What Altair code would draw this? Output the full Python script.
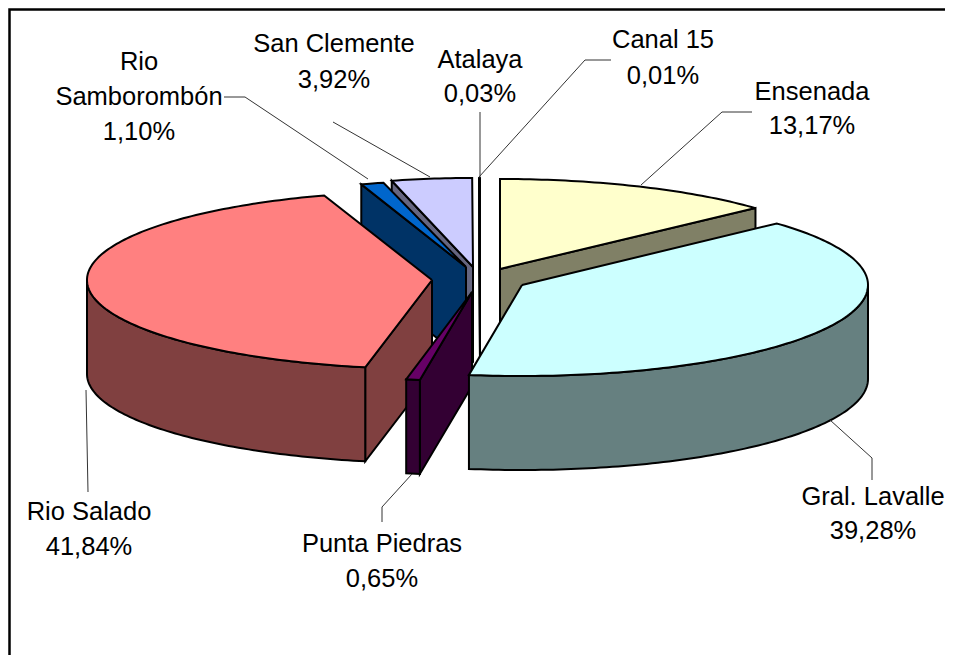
import math
import altair as alt
import pandas as pd

names = ["Ensenada", "Gral. Lavalle", "Punta Piedras", "Rio Salado",
         "Rio Samborombón", "San Clemente", "Atalaya", "Canal 15"]
values = [13.17, 39.28, 0.65, 41.84, 1.10, 3.92, 0.03, 0.01]
top_colors = ["#FFFFCC", "#CCFFFF", "#660066", "#FF8080", "#0066CC", "#CCCCFF", "#800000", "#FFFF00"]
wall_colors = ["#808066", "#668080", "#330033", "#804040", "#003366", "#666680", "#400000", "#808000"]
# exploded apex of every slice (x, y) and ellipse radii
apex = [(500, 269), (522, 285), (472, 292), (432, 280), (466, 267), (473, 267), (480, 268), (480, 268)]
radius_x = [347, 346, 340, 345, 335, 330, 346, 346]
radius_y = [90, 91, 89, 89, 87, 89, 90, 90]
depth = 94
draw_order = [5, 6, 7, 4, 0, 3, 2, 1]
# cut faces seen by the viewer: slice -> use start or end edge
visible_cut = {0: "end", 1: None, 2: "start", 3: "start", 4: "start", 5: "start", 6: "start", 7: "start"}

X0, X1, Y0, Y1 = 8, 945, 8, 655
x_scale = alt.Scale(domain=[X0, X1], nice=False, zero=False)
y_scale = alt.Scale(domain=[Y1, Y0], nice=False, zero=False)


def polygon(pts, fill):
    pts = pts + [pts[0]]
    df = pd.DataFrame({"x": [p[0] for p in pts], "y": [p[1] for p in pts], "i": range(len(pts))})
    return alt.Chart(df).mark_line(fill=fill, stroke="black", strokeWidth=2, strokeJoin="miter", interpolate="linear", clip=False).encode(
        x=alt.X("x:Q", scale=x_scale, axis=None),
        y=alt.Y("y:Q", scale=y_scale, axis=None),
        order=alt.Order("i:Q"),
    )


def rim(k, deg):
    t = math.radians(deg)
    return (apex[k][0] + radius_x[k] * math.sin(t), apex[k][1] - radius_y[k] * math.cos(t))


def down(p):
    return (p[0], p[1] + depth)


layers = []
total = sum(values)
starts = []
acc = 0.0
for v in values:
    starts.append(acc / total * 360)
    acc += v
for k in draw_order:
    a0 = starts[k]
    a1 = a0 + values[k] / total * 360
    n = max(2, int((a1 - a0)) + 2)
    angs = [a0 + (a1 - a0) * j / (n - 1) for j in range(n)]
    # cut wall
    cut = visible_cut[k]
    if cut:
        p = rim(k, a1 if cut == "end" else a0)
        layers.append(polygon([apex[k], p, down(p), down(apex[k])], wall_colors[k]))
    # outer wall: the part of the rim facing the viewer
    lo, hi = max(a0, 90), min(a1, 270)
    if lo < hi:
        m = max(2, int(hi - lo) + 2)
        arc = [rim(k, lo + (hi - lo) * j / (m - 1)) for j in range(m)]
        layers.append(polygon(arc + [down(p) for p in reversed(arc)], wall_colors[k]))
    layers.append(polygon([apex[k]] + [rim(k, a) for a in angs], top_colors[k]))

# leader lines
leader_id = ["Samborombon"] * 3 + ["Clemente"] * 2 + ["Atalaya"] * 2 + ["Canal"] * 3 + ["Ensenada"] * 3 + ["Lavalle"] * 3 + ["Punta"] * 3 + ["Salado"] * 2
leader_x = [224, 245, 368, 333, 430, 480, 480, 611, 585, 479, 752, 722, 641, 872, 872, 830, 382, 382, 412, 88, 86]
leader_y = [97, 97, 179, 122, 177, 112, 178, 60, 60, 177, 112, 112, 185, 480, 458, 420, 522, 507, 474, 492, 390]
leaders = pd.DataFrame({"id": leader_id, "x": leader_x, "y": leader_y, "i": range(len(leader_x))})
leader_layer = alt.Chart(leaders).mark_line(color="#333333", strokeWidth=1).encode(
    x=alt.X("x:Q", scale=x_scale, axis=None),
    y=alt.Y("y:Q", scale=y_scale, axis=None),
    detail="id:N",
    order=alt.Order("i:Q"),
)

# frame (runs off the page to the right and bottom)
frame = pd.DataFrame({"x": [9.5, 9.5, 945], "y": [655, 9.5, 9.5], "i": [0, 1, 2]})
frame_layer = alt.Chart(frame).mark_line(color="black", strokeWidth=2.5, clip=False).encode(
    x=alt.X("x:Q", scale=x_scale, axis=None),
    y=alt.Y("y:Q", scale=y_scale, axis=None),
    order=alt.Order("i:Q"),
)

label_text = ["Rio", "Samborombón", "1,10%", "San Clemente", "3,92%", "Atalaya", "0,03%", "Canal 15", "0,01%",
              "Ensenada", "13,17%", "Gral. Lavalle", "39,28%", "Punta Piedras", "0,65%", "Rio Salado", "41,84%"]
label_x = [139, 139, 139, 334, 334, 480, 480, 663, 663, 812, 812, 873, 873, 382, 382, 89, 89]
label_y = [62, 97, 132, 44, 80, 60, 94, 40, 76, 92, 126, 497, 531, 544, 579, 512, 547]
labels = pd.DataFrame({"t": label_text, "x": label_x, "y": label_y})
label_layer = alt.Chart(labels).mark_text(font="Liberation Sans", fontSize=25.5, color="black", align="center", baseline="middle").encode(
    x=alt.X("x:Q", scale=x_scale, axis=None),
    y=alt.Y("y:Q", scale=y_scale, axis=None),
    text="t:N",
)

chart = alt.layer(frame_layer, *layers, leader_layer, label_layer).properties(
    width=X1 - X0, height=Y1 - Y0, padding=0, background="white",
    autosize=alt.AutoSizeParams(type="none"),
).configure_view(stroke=None)

chart.save("out.html", embed_options={"renderer": "svg", "actions": False})
